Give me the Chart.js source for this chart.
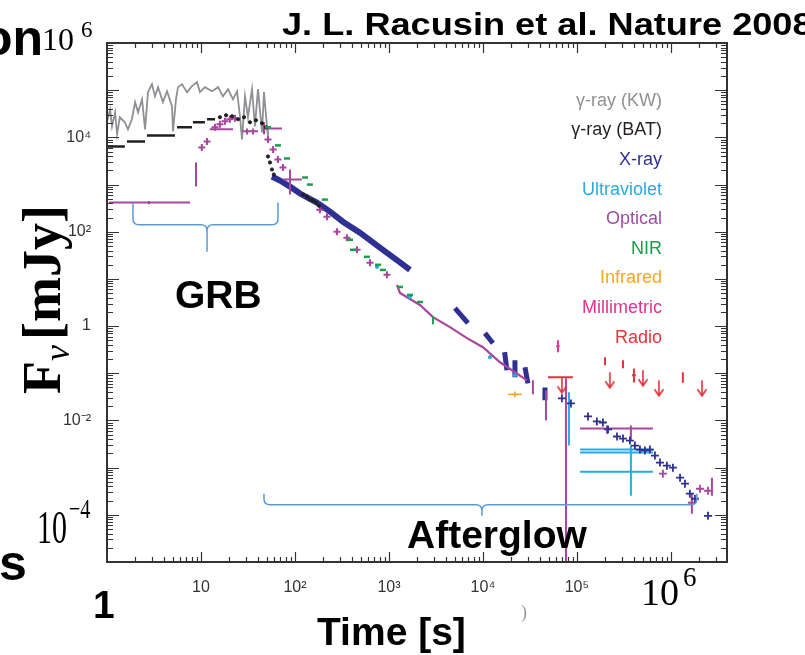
<!DOCTYPE html>
<html>
<head>
<meta charset="utf-8">
<script src="https://cdn.jsdelivr.net/npm/chart.js@4.4.1/dist/chart.umd.min.js"></script>
<style>
  body { margin: 0; background: #fff; }
  #wrap { position: relative; width: 805px; height: 655px; overflow: hidden; }
  #chart { position: absolute; left: 0; top: 0; }
  .txt { position: absolute; white-space: nowrap; line-height: 1; }
  .sans { font-family: "Liberation Sans", Arial, sans-serif; }
  .serif { font-family: "Liberation Serif", "DejaVu Serif", serif; }
  .b { font-weight: bold; color: #000; }
  .leg { font-size: 18px; right: 143px; text-align: right; }
</style>
</head>
<body>
<div id="wrap">
  <canvas id="chart" width="805" height="655"></canvas>

  <div class="txt sans b" style="font-size:50px;left:-18px;top:12.7px">on</div>
  <div class="txt serif" style="font-size:32px;left:42px;top:23px">10</div>
  <div class="txt serif" style="font-size:23px;left:81px;top:17.7px">6</div>
  <div class="txt sans b" style="font-size:32px;left:282px;top:8px;transform:scaleX(1.13);transform-origin:0 0">J. L. Racusin et al. Nature 2008</div>

  <div class="txt serif b" style="font-size:54px;left:15px;top:394px;transform:rotate(-90deg);transform-origin:0 0">F<span style="font-size:36px;font-style:italic;font-weight:normal;position:relative;top:9px">ν</span><span style="margin-left:5px">[mJy]</span></div>

  <div class="txt sans b" style="font-size:39px;left:175px;top:275px">GRB</div>
  <div class="txt sans b" style="font-size:39px;left:407px;top:515px">Afterglow</div>
  <div class="txt sans b" style="font-size:39px;left:317px;top:612px">Time [s]</div>
  <div class="txt sans b" style="font-size:39px;left:93px;top:585px">1</div>
  <div class="txt sans b" style="font-size:50px;left:-1px;top:537.7px">s</div>

  <div class="txt serif" style="font-size:46px;left:37px;top:504.5px;transform:scaleX(0.65);transform-origin:0 0">10</div>
  <div class="txt serif" style="font-size:28px;left:69px;top:494.6px;transform:scaleX(0.72);transform-origin:0 0">−4</div>
  <div class="txt serif" style="font-size:38px;left:641px;top:573px">10</div>
  <div class="txt serif" style="font-size:27px;left:683px;top:564.4px">6</div>
  <div class="txt serif" style="font-size:18px;left:521px;top:603px;color:#999">)</div>

  <div id="legend"></div>
</div>

<script>
// ---- axis ticks ----
const xTickValues = [10, 1e2, 1e3, 1e4, 1e5];
const xTickLabels = ['10', '10²', '10³', '10⁴', '10⁵'];
const yTickValues = [1e4, 1e2, 1, 1e-2];
const yTickLabels = ['10⁴', '10²', '1', '10⁻²'];

// ---- legend (drawn as text inside the plot) ----
const legendNames = ['γ-ray (KW)', 'γ-ray (BAT)', 'X-ray', 'Ultraviolet', 'Optical', 'NIR', 'Infrared', 'Millimetric', 'Radio'];
const legendColors = ['#8e9093', '#231f20', '#2e3192', '#29abe2', '#9b4f9f', '#19a04b', '#f5a623', '#e0338e', '#e2343a'];

// ---- γ-ray (KW) ----
const kwTime = [1.0, 1.08, 1.13, 1.22, 1.28, 1.37, 1.55, 1.67, 1.84, 1.99, 2.14, 2.36, 2.54, 2.73, 3.01, 3.24, 3.49, 3.94, 4.35, 4.91, 5.04, 5.42, 5.69, 6.28, 7.10, 8.02, 9.06, 9.75, 11.0, 13.1, 15.2, 17.1, 19.4, 21.9, 24.2, 26.0, 27.3, 29.4, 31.6, 34.9, 37.5, 40.4, 44.6, 46.8, 50.4, 51.6];
const kwFlux = [2.2e4, 3.9e4, 1.7e4, 3.4e4, 1.16e4, 2.67e4, 2.09e4, 1.48e4, 2.42e4, 5.6e4, 3.4e4, 6.4e4, 1.48e4, 9.1e4, 1.34e5, 7.4e4, 1.16e5, 5.6e4, 9.5e4, 4.6e4, 1.34e4, 6.4e4, 1.16e5, 1.34e5, 9.1e4, 1.22e5, 1.48e5, 9.1e4, 1.16e5, 9.5e4, 1.16e5, 7.4e4, 1.05e5, 6.4e4, 9.5e4, 2.8e4, 9.06e3, 7.4e4, 2.67e4, 1.05e5, 1.7e4, 1.05e5, 1.28e4, 9.1e4, 1.7e4, 1.05e4];

// ---- γ-ray (BAT) ----
const batBins = [[1.0, 1.55, 6440], [1.63, 2.54, 8220], [2.66, 5.29, 11000], [5.56, 8.02, 16300], [8.2, 11.0, 20900], [11.6, 14.1, 24200]];
const batTime = [15.9, 18.5, 21.4, 24.8, 28.7, 33.2, 38.5, 44.6, 49.1, 51.6, 54.2, 56.9, 59.6, 122, 134, 144, 155, 167, 180];
const batFlux = [26700, 29400, 28000, 24200, 26700, 20900, 23000, 19900, 16300, 3940, 2938, 2085, 1633, 612, 556, 480, 457, 414, 357];

// ---- X-ray ----
const xrayTime = [56.9, 69.2, 88.5, 113, 171, 236, 324, 491, 863, 1247, 1672];
const xrayFlux = [1479, 1216, 906, 644, 414, 267, 163, 95.3, 41.4, 24.2, 15.5];
const xrayBlobs = [[5035, 2.41, 6918, 1.16], [10500, 0.71, 12770, 0.434], [17000, 0.28, 18000, 0.116], [21900, 0.189, 21900, 0.082], [28000, 0.134, 30100, 0.061], [45700, 0.05, 45700, 0.0267]];
const xrayLateTime = [69200, 86300, 131000, 163000, 189000, 214000, 267000, 309000, 366000, 414000, 468000, 529000, 598000, 676000, 764000, 906000, 1.05e6, 1.25e6, 1.41e6, 1.59e6, 1.80e6, 2.48e6];
const xrayLateFlux = [0.0294, 0.023, 0.01216, 0.00952, 0.00906, 0.00644, 0.00457, 0.00414, 0.00375, 0.00294, 0.00242, 0.0023, 0.00242, 0.0018, 0.00128, 0.0011, 0.001, 0.000612, 0.000457, 0.00028, 0.000219, 9.5e-5];

// ---- Ultraviolet ----
const uvTime = [745, 1672, 11900, 21900];
const uvFlux = [18, 4.14, 0.219, 0.0906];
const uvHBars = [[108000, 644000, 0.00242], [108000, 644000, 0.00209], [108000, 644000, 0.000822]];
const uvVBars = [[82200, 0.0394, 0.00294], [375000, 0.00294, 0.000254]];

// ---- Optical ----
const optHBars = [[1.05, 7.64, 414], [12.4, 21.9, 14800], [27.3, 40.4, 13400], [45.7, 72.8, 15500], [74.5, 118, 1277], [108000, 644000, 0.00676]];
const optVBars = [[2.8, 450, 380], [8.85, 2938, 906], [30.9, 15500, 11500], [35.8, 15500, 11500], [46.8, 20900, 11600], [88.5, 2085, 612], [34000, 0.071, 0.036], [46800, 0.0434, 0.01], [76400, 0.078, 1e-6], [375000, 0.0078, 0.00375], [209000, 0.0078, 0.0052], [1.67e6, 0.00028, 0.000105], [2.73e6, 0.000612, 0.000254]];
const optRiseTime = [10.2, 11.6, 14.1, 15.9, 18.0, 20.3, 23.0, 51.6, 58.5, 65.9, 74.5, 184, 219, 280, 357, 457, 628, 952];
const optRiseFlux = [6120, 8220, 16300, 18900, 21900, 24200, 25400, 9060, 5560, 3400, 2300, 294, 208, 100, 74.5, 41.4, 21.9, 12.2];
const optDecayTime = [1217, 1309, 1672, 2137, 2938, 4457, 6761, 10000, 15200, 21900, 29400];
const optDecayFlux = [7.45, 5.04, 3.75, 2.8, 1.55, 0.952, 0.556, 0.357, 0.171, 0.105, 0.071];
const optLateTime = [822000, 1.67e6, 2.04e6, 2.48e6];
const optLateFlux = [0.000745, 0.00018, 0.000357, 0.000324];

// ---- NIR ----
const nirTime = [51.6, 65.9, 82.2, 128, 144, 208, 385, 414, 583, 764, 863, 1309, 1672, 2137];
const nirFlux = [16300, 6760, 3570, 1409, 1000, 480, 67.6, 41.4, 29.4, 19.9, 15.5, 6.76, 4.57, 3.24];
const nirVBars = [[2938, 1.6, 1.1]];

// ---- Infrared ----
const irTime = [21900];
const irFlux = [0.0357];
const irHBars = [[18500, 26000, 0.0357]];

// ---- Millimetric ----
const mmTime = [62800];
const mmFlux = [0.375];
const mmVBars = [[62800, 0.504, 0.28]];
const mmHBars = [[60000, 65600, 0.375]];

// ---- Radio ----
const radioVBars = [[199000, 0.219, 0.148], [309000, 0.189, 0.128], [404000, 0.127, 0.064], [1.34e6, 0.105, 0.0627]];
const radioHBars = [[49100, 90600, 0.0822], [385000, 424000, 0.0906]];
const radioLimTime = [69200, 224000, 504000, 745000, 2.14e6];
const radioLimFlux = [0.0822, 0.105, 0.116, 0.071, 0.071];

// ---- braces: [t left, t centre, t right, flux at ends, flux of bar, flux at tip] ----
const braceGRB = [1.89, 11.6, 65.9, 414, 141, 37.5];
const braceAfterglow = [46.8, 9750, 1.89e6, 2.8e-4, 1.63e-4, 9.5e-5];

// legend texts
const legendBox = document.getElementById('legend');
legendNames.forEach((name, i) => {
    const d = document.createElement('div');
    d.className = 'txt sans leg';
    d.style.color = legendColors[i];
    d.style.top = (106 + 29.6 * i - 15.2) + 'px';
    d.textContent = name;
    legendBox.appendChild(d);
});

const pts = (ts, fs) => ts.map((t, i) => ({ x: t, y: fs[i] }));
const hSegs = bars => bars.flatMap(([t1, t2, f]) => [{ x: t1, y: f }, { x: t2, y: f }, { x: t2, y: null }]);
const vSegs = bars => bars.flatMap(([t, f1, f2]) => [{ x: t, y: f1 }, { x: t, y: f2 }, { x: t, y: null }]);
const segs = list => list.flatMap(([t1, f1, t2, f2]) => [{ x: t1, y: f1 }, { x: t2, y: f2 }, { x: t2, y: null }]);

function makeArrow(color) {
    const c = document.createElement('canvas');
    c.width = 12; c.height = 34;
    const g = c.getContext('2d');
    g.strokeStyle = color; g.lineWidth = 1.6;
    g.beginPath();
    g.moveTo(6, 17); g.lineTo(6, 32);
    g.moveTo(1.5, 26); g.lineTo(6, 32.5); g.lineTo(10.5, 26);
    g.stroke();
    return c;
}

const C = {
    kw: '#8e9093', bat: '#231f20', xray: '#2e3192', uv: '#29abe2', opt: '#a8469c',
    nir: '#19a04b', ir: '#f5a623', mm: '#e0338e', radio: '#e2343a'
};

const seg = (data, color, width) => ({ data, borderColor: color, borderWidth: width, pointRadius: 0, showLine: true, fill: false });
const dots = (data, color, style, radius, width) => ({ data, showLine: false, pointStyle: style, pointRadius: radius, pointBorderWidth: width || 1.5, pointBorderColor: color, pointBackgroundColor: color, borderColor: color });

const datasets = [
    // radio
    dots(pts(radioLimTime, radioLimFlux), C.radio, makeArrow(C.radio), 6),
    seg(vSegs(radioVBars), C.radio, 2),
    seg(hSegs(radioHBars), C.radio, 2),
    // infrared
    dots(pts(irTime, irFlux), C.ir, 'cross', 3, 1.5),
    seg(hSegs(irHBars), C.ir, 1.5),
    // millimetric
    seg(vSegs(mmVBars), C.mm, 2),
    seg(hSegs(mmHBars), C.mm, 1.5),
    // NIR
    dots(pts(nirTime, nirFlux), C.nir, 'line', 3, 2.5),
    seg(vSegs(nirVBars), C.nir, 2),
    // BAT
    seg(hSegs(batBins), C.bat, 2.5),
    dots(pts(batTime, batFlux), C.bat, 'circle', 1.6, 1),
    // X-ray late
    dots(pts(xrayLateTime, xrayLateFlux), C.xray, 'cross', 4, 1.8),
    // ultraviolet
    dots(pts(uvTime, uvFlux), C.uv, 'circle', 1.6, 1),
    seg(hSegs(uvHBars), C.uv, 2),
    seg(vSegs(uvVBars), C.uv, 2),
    // optical
    seg(hSegs(optHBars), C.opt, 2),
    seg(vSegs(optVBars), C.opt, 2),
    dots(pts(optRiseTime, optRiseFlux), C.opt, 'cross', 3.5, 2),
    seg(pts(optDecayTime, optDecayFlux), C.opt, 2.2),
    dots(pts(optLateTime, optLateFlux), C.opt, 'cross', 4, 1.8),
    // X-ray band
    seg(pts(xrayTime, xrayFlux), C.xray, 6),
    seg(segs(xrayBlobs), C.xray, 5),
    // KW
    seg(pts(kwTime, kwFlux), C.kw, 1.8)
];

// inward ticks on all four sides and the frame
const framePlugin = {
    id: 'framePlugin',
    afterDraw(chart) {
        const { ctx, chartArea: a, scales: { x, y } } = chart;
        ctx.save();
        ctx.strokeStyle = '#333';
        ctx.lineWidth = 1.2;
        ctx.beginPath();
        for (let d = 0; d <= 6; d++) {
            for (let m = 1; m <= 9; m++) {
                const v = m * Math.pow(10, d);
                const px = Math.round(x.getPixelForValue(v)) + 0.5;
                if (px <= a.left + 1 || px >= a.right - 1) continue;
                const len = m === 1 ? 10 : 5;
                ctx.moveTo(px, a.bottom); ctx.lineTo(px, a.bottom - len);
                ctx.moveTo(px, a.top); ctx.lineTo(px, a.top + len);
            }
        }
        for (let d = -5; d <= 6; d++) {
            for (let m = 1; m <= 9; m++) {
                const v = m * Math.pow(10, d);
                const py = Math.round(y.getPixelForValue(v)) + 0.5;
                if (py <= a.top + 1 || py >= a.bottom - 1) continue;
                const len = m === 1 ? 12 : 6;
                ctx.moveTo(a.left, py); ctx.lineTo(a.left + len, py);
                ctx.moveTo(a.right, py); ctx.lineTo(a.right - len, py);
            }
        }
        ctx.stroke();
        ctx.lineWidth = 2;
        ctx.strokeRect(a.left, a.top, a.right - a.left, a.bottom - a.top);
        ctx.restore();
    }
};

// curly braces marking the GRB and afterglow phases
const bracePlugin = {
    id: 'bracePlugin',
    afterDraw(chart) {
        const { ctx, scales: { x, y } } = chart;
        const draw = ([tl, tc, tr, fEnd, fBar, fTip]) => {
            const xl = x.getPixelForValue(tl), xc = x.getPixelForValue(tc), xr = x.getPixelForValue(tr);
            const ye = y.getPixelForValue(fEnd), yb = y.getPixelForValue(fBar), yt = y.getPixelForValue(fTip);
            const r = 6;
            ctx.beginPath();
            ctx.moveTo(xl, ye);
            ctx.lineTo(xl, yb - r);
            ctx.quadraticCurveTo(xl, yb, xl + r, yb);
            ctx.lineTo(xc - r, yb);
            ctx.quadraticCurveTo(xc, yb, xc, yb + r);
            ctx.lineTo(xc, yt);
            ctx.moveTo(xc, yb + r);
            ctx.quadraticCurveTo(xc, yb, xc + r, yb);
            ctx.lineTo(xr - r, yb);
            ctx.quadraticCurveTo(xr, yb, xr, yb - r);
            ctx.lineTo(xr, ye);
            ctx.stroke();
        };
        ctx.save();
        ctx.strokeStyle = '#5b9bd5';
        ctx.lineWidth = 1.5;
        draw(braceGRB);
        draw(braceAfterglow);
        ctx.restore();
    }
};

const tickFont = { family: '"Liberation Sans", Arial, sans-serif', size: 16 };

new Chart(document.getElementById('chart'), {
    type: 'line',
    data: { datasets },
    options: {
        responsive: false,
        animation: false,
        devicePixelRatio: 1,
        layout: { padding: { left: 0, top: 43, right: 78, bottom: 0 } },
        elements: { line: { tension: 0 } },
        plugins: { legend: { display: false }, tooltip: { enabled: false } },
        scales: {
            x: {
                type: 'logarithmic',
                min: 1,
                max: 3.95e6,
                bounds: 'data',
                grid: { display: false },
                border: { display: false },
                afterBuildTicks: s => { s.ticks = xTickValues.map(v => ({ value: v })); },
                afterFit: s => { s.height = 93; },
                ticks: {
                    autoSkip: false, maxRotation: 0, minRotation: 0, padding: 8,
                    color: '#333', font: tickFont,
                    callback: v => xTickLabels[xTickValues.indexOf(v)] ?? ''
                }
            },
            y: {
                type: 'logarithmic',
                min: 1e-5,
                max: 1e6,
                bounds: 'data',
                grid: { display: false },
                border: { display: false },
                afterBuildTicks: s => { s.ticks = yTickValues.map(v => ({ value: v })); },
                afterFit: s => { s.width = 107; },
                ticks: {
                    autoSkip: false, padding: 8,
                    color: '#333', font: tickFont,
                    callback: v => yTickLabels[yTickValues.indexOf(v)] ?? ''
                }
            }
        }
    },
    plugins: [framePlugin, bracePlugin]
});
</script>
</body>
</html>
